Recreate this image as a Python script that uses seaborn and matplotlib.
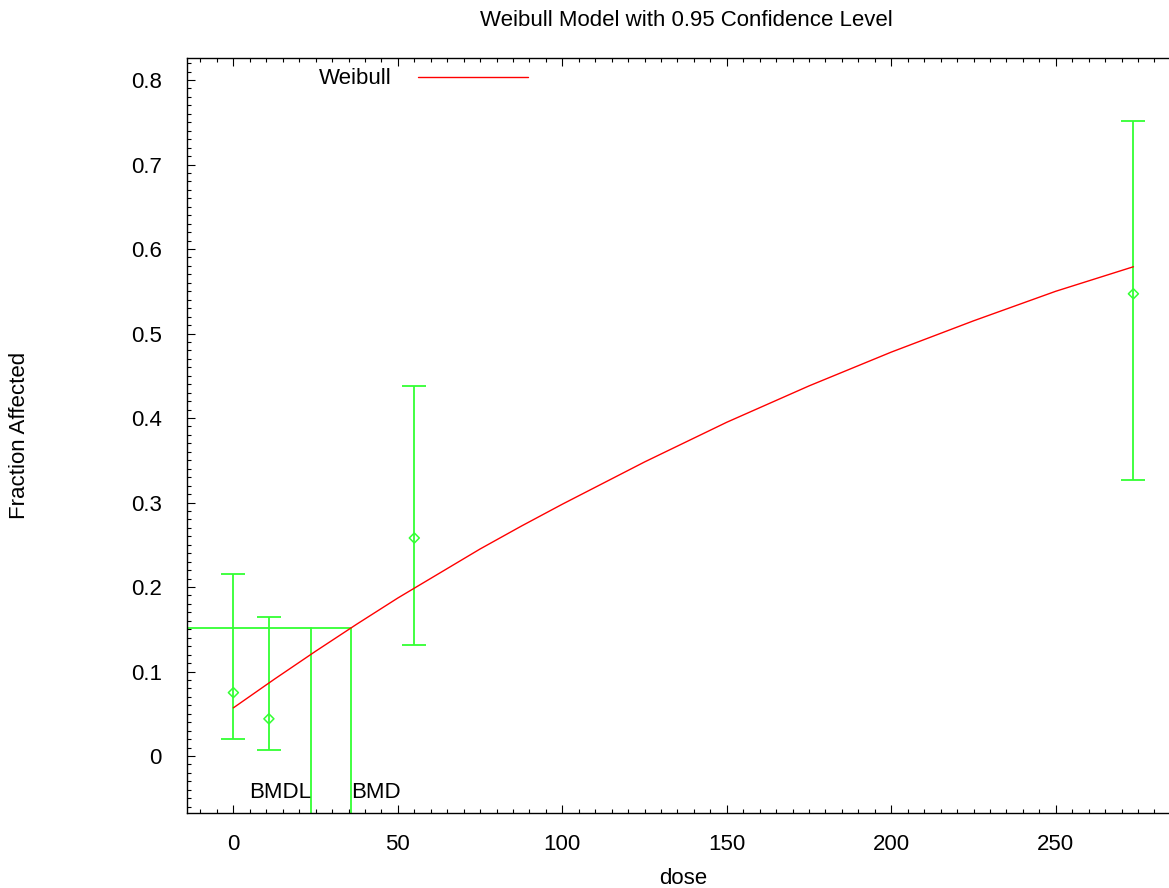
import numpy as np
import pandas as pd
import matplotlib
matplotlib.use("Agg")
import matplotlib.pyplot as plt
from matplotlib.ticker import MultipleLocator
import seaborn as sns

# observed data
dose = [0, 10.8, 55, 273.6]
frac = [0.075, 0.044, 0.258, 0.547]
err_low = [0.020, 0.0075, 0.131, 0.327]
err_high = [0.215, 0.164, 0.438, 0.752]

# fitted Weibull curve
curve_dose = [0, 12.5, 25, 37.5, 50, 62.5, 75, 87.5, 100, 125, 150, 175, 200, 225, 250, 273.6]
curve_frac = [0.057, 0.091, 0.124, 0.156, 0.187, 0.216, 0.245, 0.272, 0.298,
              0.348, 0.395, 0.438, 0.478, 0.515, 0.550, 0.579]

bmd = 35.65
bmdl = 23.6
bmr_level = 0.151

title = "Weibull Model with 0.95 Confidence Level"
xlabel = "dose"
ylabel = "Fraction Affected"

sns.set_theme(style="white")
plt.rcParams["font.family"] = ["Liberation Sans", "DejaVu Sans"]
plt.rcParams["text.color"] = "black"
plt.rcParams["xtick.labelcolor"] = "black"
plt.rcParams["ytick.labelcolor"] = "black"

FS = 16
W, H = 1169, 888
fig = plt.figure(figsize=(W / 100, H / 100), dpi=100)
ax = fig.add_axes([187 / W, 1 - 812.7 / H, 1 - 187 / W + 0.0005, (812.7 - 58.3) / H])

green = "#33ff33"
red = "#ff0000"

curve_df = pd.DataFrame({"dose": curve_dose, "frac": curve_frac})
sns.lineplot(data=curve_df, x="dose", y="frac", ax=ax, color=red, lw=1.0,
             label="Weibull", sort=True, zorder=3)

yerr = [np.array(frac) - np.array(err_low), np.array(err_high) - np.array(frac)]
ax.errorbar(dose, frac, yerr=yerr, fmt="none", ecolor=green, elinewidth=1.3,
            capsize=8.5, capthick=1.3, zorder=2)
pts = pd.DataFrame({"dose": dose, "frac": frac})
sns.scatterplot(data=pts, x="dose", y="frac", ax=ax, marker="D", s=26,
                facecolor="none", edgecolor=green, linewidth=1.1, zorder=4,
                legend=False)

xmin, xmax = -14.1, 284.6
ymin, ymax = -0.0671, 0.8257
ax.plot([xmin, bmd], [bmr_level, bmr_level], color=green, lw=1.3, zorder=2)
ax.plot([bmdl, bmdl], [ymin, bmr_level], color=green, lw=1.3, zorder=2)
ax.plot([bmd, bmd], [ymin, bmr_level], color=green, lw=1.3, zorder=2)
ax.text(bmdl, -0.043, "BMDL", ha="right", va="center", fontsize=FS, color="black")
ax.text(bmd, -0.043, "BMD", ha="left", va="center", fontsize=FS, color="black")

ax.set_xlim(xmin, xmax)
ax.set_ylim(ymin, ymax)
ax.set_xticks([0, 50, 100, 150, 200, 250])
ax.set_yticks([0, 0.1, 0.2, 0.3, 0.4, 0.5, 0.6, 0.7, 0.8])
ax.set_yticklabels(["0", "0.1", "0.2", "0.3", "0.4", "0.5", "0.6", "0.7", "0.8"])
ax.xaxis.set_minor_locator(MultipleLocator(5))
ax.yaxis.set_minor_locator(MultipleLocator(0.01))
ax.tick_params(which="both", direction="in", top=True, right=False, bottom=True, left=True,
               color="black", width=0.8)
ax.tick_params(which="major", length=5.5, labelsize=FS, labelcolor="black")
ax.tick_params(axis="x", which="major", pad=15)
ax.tick_params(axis="y", which="major", pad=18)
ax.tick_params(which="minor", length=3)
for s in ax.spines.values():
    s.set_color("black")
    s.set_linewidth(1.0)
ax.spines["right"].set_visible(False)
ax.set_xlabel("")
ax.set_ylabel("")

fig.text(683 / W, 1 - 878 / H, xlabel, ha="center", va="center", fontsize=FS)
fig.text(20 / W, 1 - 435 / H, ylabel, ha="center", va="center", rotation=90, fontsize=FS)
fig.text(686 / W, 1 - 20.5 / H, title, ha="center", va="center", fontsize=FS)

ax.legend(loc="center left", bbox_to_anchor=(319 / W, 1 - 79 / H),
          bbox_transform=fig.transFigure, frameon=False, markerfirst=False,
          handlelength=4.95, handletextpad=1.2, borderpad=0, borderaxespad=0,
          fontsize=FS)

fig.savefig("out.png", dpi=100)
